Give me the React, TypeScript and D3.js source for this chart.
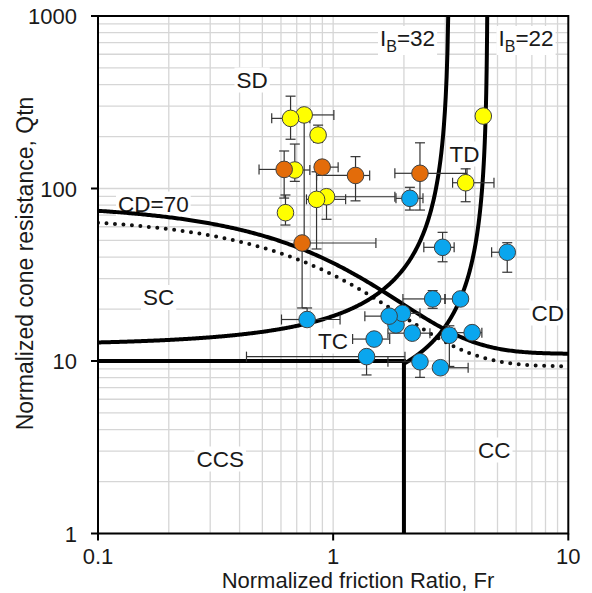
import React, { useEffect, useRef } from 'react';
import * as d3 from 'd3';

const W = 592, H = 593;
const xTicks = [0.1, 1, 10];
const xTickLabels = ['0.1', '1', '10'];
const yTicks = [1, 10, 100, 1000];
const yTickLabels = ['1', '10', '100', '1000'];

type Pt = { fr: number; q: number; frLo?: number; frHi?: number; qLo?: number; qHi?: number };

// Yellow (drawn in order; later on top)
const yellowPoints: Pt[] = [
  { fr: 0.753, q: 267, frLo: 0.667, frHi: 1.007, qLo: 48.3 },
  { fr: 0.659, q: 255, frLo: 0.548, frHi: 0.796, qLo: 193, qHi: 343 },
  { fr: 0.863, q: 204, qHi: 233, qLo: 185 },
  { fr: 0.687, q: 128, frHi: 0.796, qHi: 181, qLo: 110 },
  { fr: 0.627, q: 72.4, qHi: 91.7, qLo: 61.4 },
  { fr: 0.937, q: 89.6, frHi: 1.83, qLo: 66.3 },
  { fr: 0.85, q: 86.5, frLo: 0.77, frHi: 1.13, qHi: 125, qLo: 44.6 },
  { fr: 3.66, q: 108, frLo: 3.22, frHi: 4.83, qHi: 130, qLo: 83.8 },
  { fr: 4.35, q: 263 },
];

const orangePoints: Pt[] = [
  { fr: 0.619, q: 129, frLo: 0.484, qHi: 165, qLo: 88 },
  { fr: 0.898, q: 133, frLo: 0.844, frHi: 1.05 },
  { fr: 1.245, q: 119, frLo: 0.85, frHi: 1.43, qHi: 153, qLo: 84.8 },
  { fr: 2.34, q: 122.5, frLo: 1.83, frHi: 3.71, qHi: 184, qLo: 75 },
  { fr: 0.738, q: 48.3, frHi: 1.52, qLo: 20.3 },
];

const bluePoints: Pt[] = [
  { fr: 2.12, q: 87.7, frLo: 1.85, frHi: 2.41, qHi: 101.6, qLo: 75 },
  { fr: 2.92, q: 45.6, frLo: 2.43, frHi: 3.27, qHi: 55.7, qLo: 37.6 },
  { fr: 5.5, q: 42.7, frLo: 4.72, qHi: 48.5, qLo: 32.7 },
  { fr: 2.65, q: 22.9, frLo: 1.98, frHi: 2.99, qHi: 25.6, qLo: 20.2 },
  { fr: 3.48, q: 22.9, frLo: 2.99 },
  { fr: 1.85, q: 16.2 },
  { fr: 1.97, q: 18.9, frHi: 2.34 },
  { fr: 1.73, q: 18.2, frLo: 1.364 },
  { fr: 2.17, q: 14.5, frLo: 1.71, frHi: 2.58 },
  { fr: 3.12, q: 14.1, qHi: 16, qLo: 9.3 },
  { fr: 3.9, q: 14.6, frLo: 3.29, frHi: 4.29 },
  { fr: 1.494, q: 13.4, frLo: 1.21, frHi: 1.74 },
  { fr: 1.387, q: 10.6, frLo: 0.428, frHi: 2.02, qLo: 8.3 },
  { fr: 2.34, q: 9.9, frLo: 1.71, qLo: 8.04 },
  { fr: 2.86, q: 9.14, frHi: 3.75 },
  { fr: 0.775, q: 17.4, frLo: 0.603, frHi: 1.07, qHi: 20.3 },
];

// Boundary parameters
const CD_SOLID = { base: 11, k: 70 };
const CD_DOTTED = { base: 9.3, k: 59.8 };
const IB_LINES = [
  { ib: 32, frStart: 0.1 },
  { ib: 22, frStart: 2.0 },
];
const QTN_CUT = 10;
const FR_CUT = 2;

const YELLOW = '#FFFF00', ORANGE = '#E36C0A', BLUE = '#0AA6EE';

export default function App() {
  const ref = useRef<SVGSVGElement>(null);
  useEffect(() => {
    const svg = d3.select(ref.current);
    svg.selectAll('*').remove();
    const L = 98, R = 568.3, T = 16, B = 533.5;
    const x = d3.scaleLog().domain([0.1, 10]).range([L, R]);
    const y = d3.scaleLog().domain([1, 1000]).range([B, T]);
    const font = 'Liberation Sans, Arial, sans-serif';

    svg.append('rect').attr('width', W).attr('height', H).attr('fill', '#fff');
    svg.append('defs').append('clipPath').attr('id', 'plot')
      .append('rect').attr('x', L).attr('y', T).attr('width', R - L).attr('height', B - T);

    // grid
    const g = svg.append('g');
    const xGrid: number[] = [];
    [0.1, 1].forEach(d => { for (let i = 1; i <= 9; i++) xGrid.push(d * i); });
    const yGrid: number[] = [];
    [1, 10, 100].forEach(d => { for (let i = 1; i <= 9; i++) yGrid.push(d * i); });
    g.selectAll('.vg').data(xGrid).enter().append('line')
      .attr('x1', d => x(d)).attr('x2', d => x(d)).attr('y1', T).attr('y2', B)
      .attr('stroke', '#d6d6d6').attr('stroke-width', 1.3);
    g.selectAll('.hg').data(yGrid).enter().append('line')
      .attr('y1', d => y(d)).attr('y2', d => y(d)).attr('x1', L).attr('x2', R)
      .attr('stroke', '#d6d6d6').attr('stroke-width', 1.3);

    // labels with white background
    const labels = [
      { t: 'SD', x: 236.5, y: 87.5 },
      { t: 'TD', x: 449.5, y: 161.5 },
      { t: 'CD=70', x: 118, y: 211.5 },
      { t: 'SC', x: 143, y: 305 },
      { t: 'TC', x: 318, y: 348.5 },
      { t: 'CD', x: 531.5, y: 320.5 },
      { t: 'CCS', x: 196.5, y: 466.5 },
      { t: 'CC', x: 478, y: 457.5 },
    ];
    const lg = svg.append('g');
    const addBg = (node: SVGTextElement) => {
      const bb = node.getBBox();
      lg.insert('rect', () => node)
        .attr('x', bb.x - 2).attr('y', bb.y).attr('width', bb.width + 4).attr('height', bb.height)
        .attr('fill', '#fff');
    };
    labels.forEach(l => {
      const t = lg.append('text').attr('x', l.x).attr('y', l.y).attr('font-family', font)
        .attr('font-size', 22.5).attr('fill', '#1a1a1a').text(l.t);
      addBg(t.node() as SVGTextElement);
    });
    const ibLabelPos = [{ x: 380, y: 46, v: '32' }, { x: 498.5, y: 46, v: '22' }];
    ibLabelPos.forEach(p => {
      const t = lg.append('text').attr('x', p.x).attr('y', p.y).attr('font-family', font)
        .attr('font-size', 22.5).attr('fill', '#1a1a1a');
      t.append('tspan').text('I');
      t.append('tspan').attr('dy', 6).attr('font-size', 16).text('B');
      t.append('tspan').attr('dy', -6).text('=' + p.v);
      addBg(t.node() as SVGTextElement);
    });

    // curves
    const cg = svg.append('g').attr('clip-path', 'url(#plot)');
    const line = d3.line<[number, number]>().x(d => x(d[0])).y(d => y(d[1]));
    const logRange = (a: number, b: number, n: number) =>
      d3.range(n + 1).map(i => Math.pow(10, Math.log10(a) + (i * (Math.log10(b) - Math.log10(a))) / n));
    const cdPts = (p: { base: number; k: number }) =>
      logRange(0.1, 10, 300).map(f => [f, p.base + p.k / Math.pow(1 + 0.06 * f, 17)] as [number, number]);
    cg.append('path').attr('d', line(cdPts(CD_DOTTED))).attr('fill', 'none').attr('stroke', '#111')
      .attr('stroke-width', 4).attr('stroke-linecap', 'round').attr('stroke-dasharray', '0 8.5');
    cg.append('path').attr('d', line(cdPts(CD_SOLID))).attr('fill', 'none').attr('stroke', '#000')
      .attr('stroke-width', 4);
    IB_LINES.forEach(l => {
      const num = 70 * l.ib - 1000;
      const frEnd = (100 - num / 1100) / l.ib;
      const pts = logRange(l.frStart, frEnd, 400).map(f => [f, num / (100 - l.ib * f)] as [number, number]);
      cg.append('path').attr('d', line(pts)).attr('fill', 'none').attr('stroke', '#000').attr('stroke-width', 4);
    });
    cg.append('line').attr('x1', x(0.1)).attr('x2', x(FR_CUT) + 2).attr('y1', y(QTN_CUT)).attr('y2', y(QTN_CUT))
      .attr('stroke', '#000').attr('stroke-width', 4);
    cg.append('line').attr('x1', x(FR_CUT)).attr('x2', x(FR_CUT)).attr('y1', y(QTN_CUT)).attr('y2', y(1))
      .attr('stroke', '#000').attr('stroke-width', 4);

    // error bars
    const eg = svg.append('g').attr('stroke', '#333').attr('stroke-width', 1.2);
    const cap = 5;
    const allSeries = [yellowPoints, orangePoints, bluePoints];
    allSeries.forEach(series => series.forEach(p => {
      const cx = x(p.fr), cy = y(p.q);
      if (p.frLo !== undefined) {
        eg.append('line').attr('x1', x(p.frLo)).attr('x2', cx).attr('y1', cy).attr('y2', cy);
        eg.append('line').attr('x1', x(p.frLo)).attr('x2', x(p.frLo)).attr('y1', cy - cap).attr('y2', cy + cap);
      }
      if (p.frHi !== undefined) {
        eg.append('line').attr('x1', cx).attr('x2', x(p.frHi)).attr('y1', cy).attr('y2', cy);
        eg.append('line').attr('x1', x(p.frHi)).attr('x2', x(p.frHi)).attr('y1', cy - cap).attr('y2', cy + cap);
      }
      if (p.qLo !== undefined) {
        eg.append('line').attr('x1', cx).attr('x2', cx).attr('y1', cy).attr('y2', y(p.qLo));
        eg.append('line').attr('x1', cx - cap).attr('x2', cx + cap).attr('y1', y(p.qLo)).attr('y2', y(p.qLo));
      }
      if (p.qHi !== undefined) {
        eg.append('line').attr('x1', cx).attr('x2', cx).attr('y1', cy).attr('y2', y(p.qHi));
        eg.append('line').attr('x1', cx - cap).attr('x2', cx + cap).attr('y1', y(p.qHi)).attr('y2', y(p.qHi));
      }
    }));

    // markers
    const mg = svg.append('g');
    const colors = [YELLOW, ORANGE, BLUE];
    allSeries.forEach((series, i) => {
      mg.selectAll(null).data(series).enter().append('circle')
        .attr('cx', d => x(d.fr)).attr('cy', d => y(d.q)).attr('r', 8.3)
        .attr('fill', colors[i]).attr('stroke', '#404040').attr('stroke-width', 1);
    });

    // frame + axes
    svg.append('rect').attr('x', L).attr('y', T).attr('width', R - L).attr('height', B - T)
      .attr('fill', 'none').attr('stroke', '#000').attr('stroke-width', 2);
    const ag = svg.append('g').attr('font-family', font).attr('font-size', 22).attr('fill', '#1a1a1a');
    yTicks.forEach((v, i) => {
      ag.append('line').attr('x1', L - 7).attr('x2', L).attr('y1', y(v)).attr('y2', y(v)).attr('stroke', '#000').attr('stroke-width', 2);
      ag.append('text').attr('x', 77).attr('y', y(v) + 8).attr('text-anchor', 'end').text(yTickLabels[i]);
    });
    xTicks.forEach((v, i) => {
      ag.append('line').attr('x1', x(v)).attr('x2', x(v)).attr('y1', B).attr('y2', B + 7).attr('stroke', '#000').attr('stroke-width', 2);
      ag.append('text').attr('x', x(v)).attr('y', 563.5).attr('text-anchor', 'middle').text(xTickLabels[i]);
    });
    ag.append('text').attr('x', 358).attr('y', 587.8).attr('text-anchor', 'middle').attr('font-size', 22)
      .text('Normalized friction Ratio, Fr');
    ag.append('text').attr('transform', 'translate(33.3,263.5) rotate(-90)').attr('text-anchor', 'middle')
      .attr('font-size', 23).text('Normalized cone resistance, Qtn');
  }, []);
  return (
    <svg ref={ref} width={W} height={H} style={{ position: 'absolute', left: 0, top: 0 }} />
  );
}
